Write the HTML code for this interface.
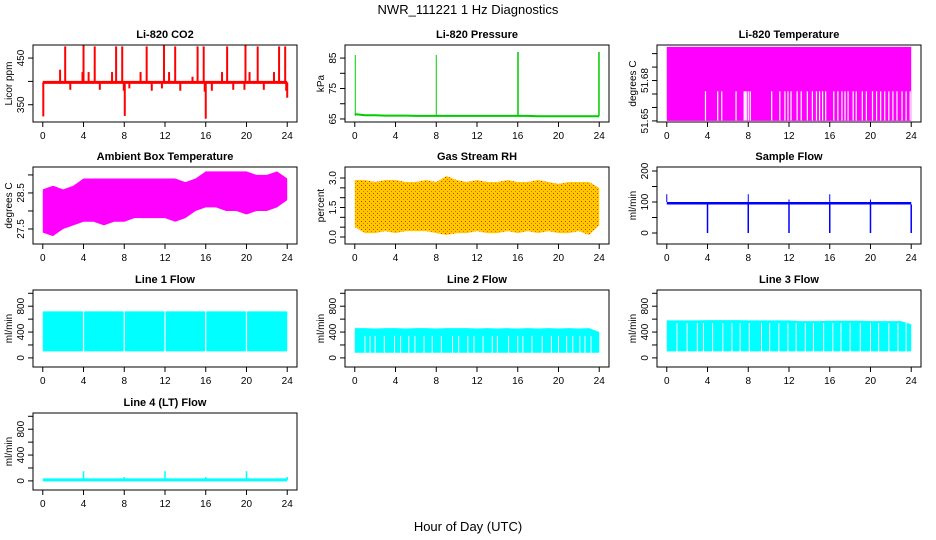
<!DOCTYPE html>
<html><head><meta charset="utf-8"><style>
body{margin:0;background:#fff;}
svg{display:block;font-family:"Liberation Sans",sans-serif;}
</style></head><body>
<svg id="c" width="936" height="540" viewBox="0 0 936 540" xmlns="http://www.w3.org/2000/svg">
<defs>
<pattern id="rhpat" width="4" height="4" patternUnits="userSpaceOnUse">
<rect width="4" height="4" fill="#ffcc00"/><rect x="1" y="1" width="1" height="1" fill="#ff2000"/><rect x="3" y="3" width="1" height="1" fill="#ff6000"/>
</pattern>
</defs>
<text x="468" y="14" text-anchor="middle" font-size="13">NWR_111221  1 Hz Diagnostics</text>
<text x="468" y="531" text-anchor="middle" font-size="13">Hour of Day (UTC)</text>
</svg>
<script>
// ---- data ----
const xTicks=[0,4,8,12,16,20,24];
const co2Base=398;
const co2SpikeHours=[0.05,1.7,2.2,2.7,3.9,4.0,4.5,5.1,5.6,6.8,7.2,7.8,7.95,8.05,8.5,9.6,10.2,10.7,11.7,11.9,12.4,13.0,13.5,14.7,15.2,15.8,15.9,16.0,16.6,17.6,18.1,18.7,19.8,19.9,20.3,21.1,21.7,22.7,23.2,23.8,23.9,24.0];
const co2SpikeVals=[325,425,475,382,420,477,420,475,382,420,475,475,380,326,385,420,475,380,385,477,420,475,380,410,475,475,378,320,380,420,475,382,382,477,420,475,382,420,475,475,380,365];
const presBase=[66.6,66.2,66.2,66.1,66.1,66.1,66.0,66.0,66.0,66.0,66.0,66.0,66.0,66.0,66.0,66.0,66.0,66.0,65.9,65.9,65.9,65.9,65.9,65.9,65.9];
const presSpikeHours=[0.05,8.0,16.0,16.05,24.0,23.95];
const presSpikeVals=[86,86,87,87,87,87];
const ltTop=51.705, ltBottom=51.65, ltGapTop=51.672;
const ltGapHours=[3.8,5.0,5.4,6.8,7.6,7.7,7.8,8.0,8.2,10.3,11.1,11.6,11.9,12.2,12.8,13.2,13.8,14.3,14.7,15.0,15.3,15.6,16.4,16.8,17.2,17.5,17.8,18.3,18.6,19.2,19.6,20.2,20.6,21.0,21.4,21.8,22.2,22.6,23.1,23.5,23.9];
const ambHi=[28.6,28.7,28.6,28.7,28.9,28.9,28.9,28.9,28.9,28.9,28.9,28.9,28.9,28.9,28.8,28.9,29.1,29.1,29.1,29.1,29.1,29.0,29.0,29.1,28.9];
const ambLo=[27.4,27.3,27.5,27.6,27.7,27.7,27.6,27.7,27.7,27.8,27.8,27.8,27.8,27.7,27.8,28.0,28.1,28.1,28.0,28.0,27.9,28.0,28.0,28.1,28.3];
const rhHi=[2.9,2.9,2.8,2.9,2.9,2.8,2.8,2.9,2.8,3.1,2.9,2.8,2.9,2.8,2.8,2.9,2.8,2.8,2.9,2.8,2.7,2.8,2.8,2.8,2.5];
const rhLo=[0.5,0.2,0.2,0.3,0.2,0.3,0.3,0.3,0.2,0.1,0.2,0.2,0.3,0.2,0.2,0.3,0.2,0.3,0.2,0.3,0.2,0.2,0.3,0.1,0.6];
const sfHi=100, sfLo=92;
const sfDropHours=[4,8,12,16,20,24];
const sfSpikeHours=[0,8,12,16,20];
const sfSpikeVals=[125,125,108,125,108];
const l1Hi=720,l1Lo=100;
const l1GapHours=[4,8,12,16,20];
const l2Hi=[460,460,455,460,460,455,460,460,455,460,460,460,455,460,455,460,455,460,455,460,455,460,455,460,400];
const l2Lo=80, l2GapTop=340;
const l2GapHours=[1.0,1.5,2.0,2.9,3.9,4.5,5.3,5.9,6.8,7.6,8.5,9.6,10.2,11.1,11.7,12.6,13.5,14.0,15.1,16.0,16.5,17.4,18.4,19.3,20.0,20.8,21.4,22.1,22.6,23.2];
const l3Hi=[580,580,580,580,585,585,585,585,580,580,580,580,580,570,570,570,575,575,575,575,570,570,570,570,520];
const l3Lo=100, l3GapTop=540;
const l3GapHours=[1,2,3,3.6,4.5,5.5,6.4,7.2,8.1,9.3,10.1,11.0,11.9,12.7,13.6,14.4,15.4,16.3,17.1,18.0,19.0,20.0,20.8,21.8,22.7,23.5];
const l4Base=15;
const l4SpikeHours=[4,8,12,16,20,24];
const l4SpikeVals=[150,60,150,60,150,60];

// ---- drawing ----
const svg=document.getElementById('c');
const NS='http://www.w3.org/2000/svg';
function mk(tag,attrs,parent){const e=document.createElementNS(NS,tag);for(const k in attrs)e.setAttribute(k,attrs[k]);(parent||svg).appendChild(e);return e;}
const colL=[33,345,657], rowT=[45,167,290,413], W=264, H=77;
function panel(name,col,row,ymin,ymax,yticks,ylabels,ytitle,title){
  const g=mk('g',{});
  
  
  const L=colL[col],T=rowT[row];
  const X=h=>L+(h+0.96)/25.92*W;
  const Y=v=>T+H-(v-ymin)/(ymax-ymin)*H;
  const data=mk('g',{},g);
  
  
  const box=mk('rect',{x:L,y:T,width:W,height:H,fill:'none',stroke:'#000','stroke-width':1},g);
  
  
  const t=mk('text',{x:L+W/2,y:T-7,'text-anchor':'middle','font-size':11,'font-weight':'bold'},g);t.textContent=title;
  
  
  const xa=mk('g',{},g);
  
  
  xTicks.forEach(h=>{mk('line',{x1:X(h),x2:X(h),y1:T+H,y2:T+H+5,stroke:'#000'},xa);
    const tx=mk('text',{x:X(h),y:T+H+17,'text-anchor':'middle','font-size':10},xa);tx.textContent=h;});
  const ya=mk('g',{},g);
  
  
  yticks.forEach((v,i)=>{mk('line',{x1:L-5,x2:L,y1:Y(v),y2:Y(v),stroke:'#000'},ya);
    if(ylabels[i]!==''){const tx=mk('text',{x:L-9,y:Y(v),'text-anchor':'middle','font-size':10,transform:`rotate(-90 ${L-9} ${Y(v)})`},ya);tx.textContent=ylabels[i];}});
  const yt=mk('text',{x:L-21,y:T+H/2,'text-anchor':'middle','font-size':10,transform:`rotate(-90 ${L-21} ${T+H/2})`},g);yt.textContent=ytitle;
  
  
  return {g:data,X,Y};
}
function band(p,hi,lo,fill){
  let pts=[];hi.forEach((v,i)=>pts.push(p.X(i)+','+p.Y(v)));
  for(let i=lo.length-1;i>=0;i--)pts.push(p.X(i)+','+p.Y(lo[i]));
  mk('polygon',{points:pts.join(' '),fill:fill},p.g);
}
function vline(p,h,a,b,col,w){mk('line',{x1:p.X(h),x2:p.X(h),y1:p.Y(a),y2:p.Y(b),stroke:col,'stroke-width':w},p.g);}
const full=v=>Array(25).fill(v);

// CO2
let p=panel('co2',0,0,313,478,[350,400,450],['350','','450'],'Licor ppm','Li-820 CO2');
co2SpikeHours.forEach((h,i)=>vline(p,h,co2Base,co2SpikeVals[i],'#ff0000',2));
mk('line',{x1:p.X(0),x2:p.X(24),y1:p.Y(co2Base),y2:p.Y(co2Base),stroke:'#ff0000','stroke-width':3},p.g);

// Pressure
p=panel('pressure',1,0,64,89.3,[65,70,75,80,85],['65','','75','','85'],'kPa','Li-820 Pressure');
{let pts=presBase.map((v,i)=>p.X(i)+','+p.Y(v)).join(' ');mk('polyline',{points:pts,fill:'none',stroke:'#00cc00','stroke-width':2},p.g);}
presSpikeHours.forEach((h,i)=>vline(p,h,66,presSpikeVals[i],'#00cc00',1));

// Li-820 temperature
p=panel('li820-temperature',2,0,51.6492,51.7064,[51.65,51.66,51.67,51.68,51.69,51.70],['51.65','','','51.68','',''],'degrees C','Li-820 Temperature');
band(p,full(ltTop),full(ltBottom),'#ff00ff');
ltGapHours.forEach(h=>vline(p,h,ltBottom+0.0004,ltGapTop,'#ffffff',1.2));

// Ambient
p=panel('ambient-box-temperature',0,1,27.083,29.22,[27.5,28,28.5,29],['27.5','','28.5',''],'degrees C','Ambient Box Temperature');
band(p,ambHi,ambLo,'#ff00ff');

// RH
p=panel('gas-stream-rh',1,1,-0.356,3.56,[0,0.5,1,1.5,2,2.5,3],['0.0','','','1.5','','','3.0'],'percent','Gas Stream RH');
band(p,rhHi,rhLo,'url(#rhpat)');

// Sample flow
p=panel('sample-flow',2,1,-35.5,212.9,[0,50,100,150,200],['0','','100','','200'],'ml/min','Sample Flow');
sfSpikeHours.forEach((h,i)=>vline(p,h,sfHi,sfSpikeVals[i],'#0000ff',1));
sfDropHours.forEach(h=>vline(p,h,sfLo,0,'#0000ff',1.5));
band(p,full(sfHi),full(sfLo),'#0000ff');

// Line flows
const lt=[0,200,400,600,800,1000], ll=['0','','400','','800',''];
p=panel('line-1-flow',0,2,-141,1051,lt,ll,'ml/min','Line 1 Flow');
band(p,full(l1Hi),full(l1Lo),'#00ffff');
l1GapHours.forEach(h=>vline(p,h,l1Lo,l1Hi,'#ffffff',1.2));
p=panel('line-2-flow',1,2,-141,1051,lt,ll,'ml/min','Line 2 Flow');
band(p,l2Hi,full(l2Lo),'#00ffff');
l2GapHours.forEach(h=>vline(p,h,l2Lo,l2GapTop,'#ffffff',1));
p=panel('line-3-flow',2,2,-141,1051,lt,ll,'ml/min','Line 3 Flow');
band(p,l3Hi,full(l3Lo),'#00ffff');
l3GapHours.forEach(h=>vline(p,h,l3Lo,l3GapTop,'#ffffff',1));
p=panel('line-4-flow',0,3,-141,1051,lt,ll,'ml/min','Line 4 (LT) Flow');
l4SpikeHours.forEach((h,i)=>vline(p,h,l4Base,l4SpikeVals[i],'#00ffff',1.5));
mk('line',{x1:p.X(0),x2:p.X(24),y1:p.Y(l4Base),y2:p.Y(l4Base),stroke:'#00ffff','stroke-width':3},p.g);
</script>
</body></html>
